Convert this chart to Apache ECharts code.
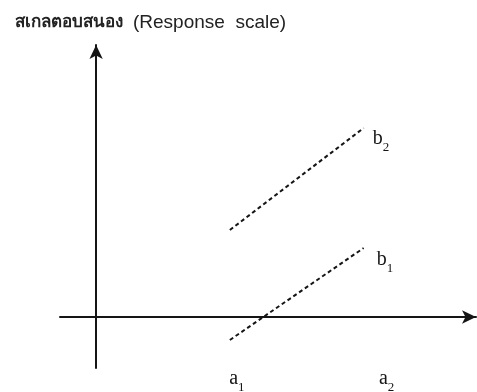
<!DOCTYPE html>
<html>
<head>
<meta charset="utf-8">
<script src="https://cdn.jsdelivr.net/npm/echarts@6/dist/echarts.min.js"></script>
<style>
  html, body { margin: 0; padding: 0; background: #fff; }
  #chart { width: 477px; height: 392px; }
</style>
</head>
<body>
<div id="chart"></div>
<script>
// Factor levels on the horizontal axis
const levels = [1, 2];
const levelNames = ['a1', 'a2'];
// Responses at a1 and a2 for each level of factor B
const seriesNames = ['b1', 'b2'];
const responseB1 = [-0.23, 0.69];
const responseB2 = [0.87, 1.89];
const axisTitleThai = 'สเกลตอบสนอง';
const axisTitleEnglish = '(Response  scale)';

const ink = '#151515';
const serif = '"Liberation Serif", "DejaVu Serif", serif';

// Horizontal nudge (px) for each level label, and offsets for the end labels
const levelLabelShift = [7, 23];
const endLabelOffset = { b1: [4, 11], b2: [0, 10] };

const richSub = {
  m: { fontFamily: serif, fontSize: 20, color: ink, verticalAlign: 'bottom', lineHeight: 22 },
  s: { fontFamily: serif, fontSize: 13, color: ink, verticalAlign: 'bottom', lineHeight: 14, padding: [0, 0, -5, 0] }
};
levelLabelShift.forEach((dx, i) => {
  richSub['m' + i] = Object.assign({}, richSub.m, { padding: [0, 0, 0, 2 * dx] });
});

function subLabel(name, key) {
  return '{' + (key || 'm') + '|' + name[0] + '}{s|' + name.slice(1) + '}';
}

function levelLabel(v) {
  const i = levels.indexOf(Number(v));
  return i < 0 ? '' : subLabel(levelNames[i], 'm' + i);
}

function lineSeries(name, values) {
  return {
    name: name,
    type: 'line',
    data: levels.map((x, i) => [x, values[i]]),
    symbol: 'none',
    lineStyle: { color: ink, width: 2, type: [4, 3] },
    endLabel: {
      show: true,
      formatter: () => subLabel(name),
      distance: 9,
      offset: endLabelOffset[name],
      rich: richSub
    },
    silent: true
  };
}

const chart = echarts.init(document.getElementById('chart'), null, { renderer: 'canvas' });
chart.setOption({
  animation: false,
  backgroundColor: '#fff',
  title: {
    text: '{t|' + axisTitleThai + '}  {r|' + axisTitleEnglish + '}',
    left: 10,
    top: 8,
    textStyle: {
      rich: {
        t: { fontFamily: '"Noto Sans", sans-serif', fontSize: 17, fontWeight: 'bold', color: '#222' },
        r: { fontFamily: '"Liberation Sans", Arial, sans-serif', fontSize: 19, fontWeight: 'normal', color: '#222' }
      }
    }
  },
  grid: { left: 60, right: 1, top: 45, bottom: 24, outerBoundsMode: 'none', containLabel: false },
  xAxis: {
    type: 'value',
    min: -0.27,
    max: 2.84,
    splitLine: { show: false },
    axisTick: { show: false },
    axisLine: {
      onZero: true,
      symbol: ['none', 'arrow'],
      symbolSize: [10, 14],
      lineStyle: { color: ink, width: 2 }
    },
    axisLabel: {
      customValues: levels,
      formatter: levelLabel,
      margin: -1,
      rich: richSub
    }
  },
  yAxis: {
    type: 'value',
    min: -0.51,
    max: 2.72,
    splitLine: { show: false },
    axisTick: { show: false },
    axisLabel: { show: false },
    axisLine: {
      onZero: true,
      symbol: ['none', 'arrow'],
      symbolSize: [10, 14],
      lineStyle: { color: ink, width: 2 }
    }
  },
  series: [lineSeries('b1', responseB1), lineSeries('b2', responseB2)]
});
</script>
</body>
</html>
